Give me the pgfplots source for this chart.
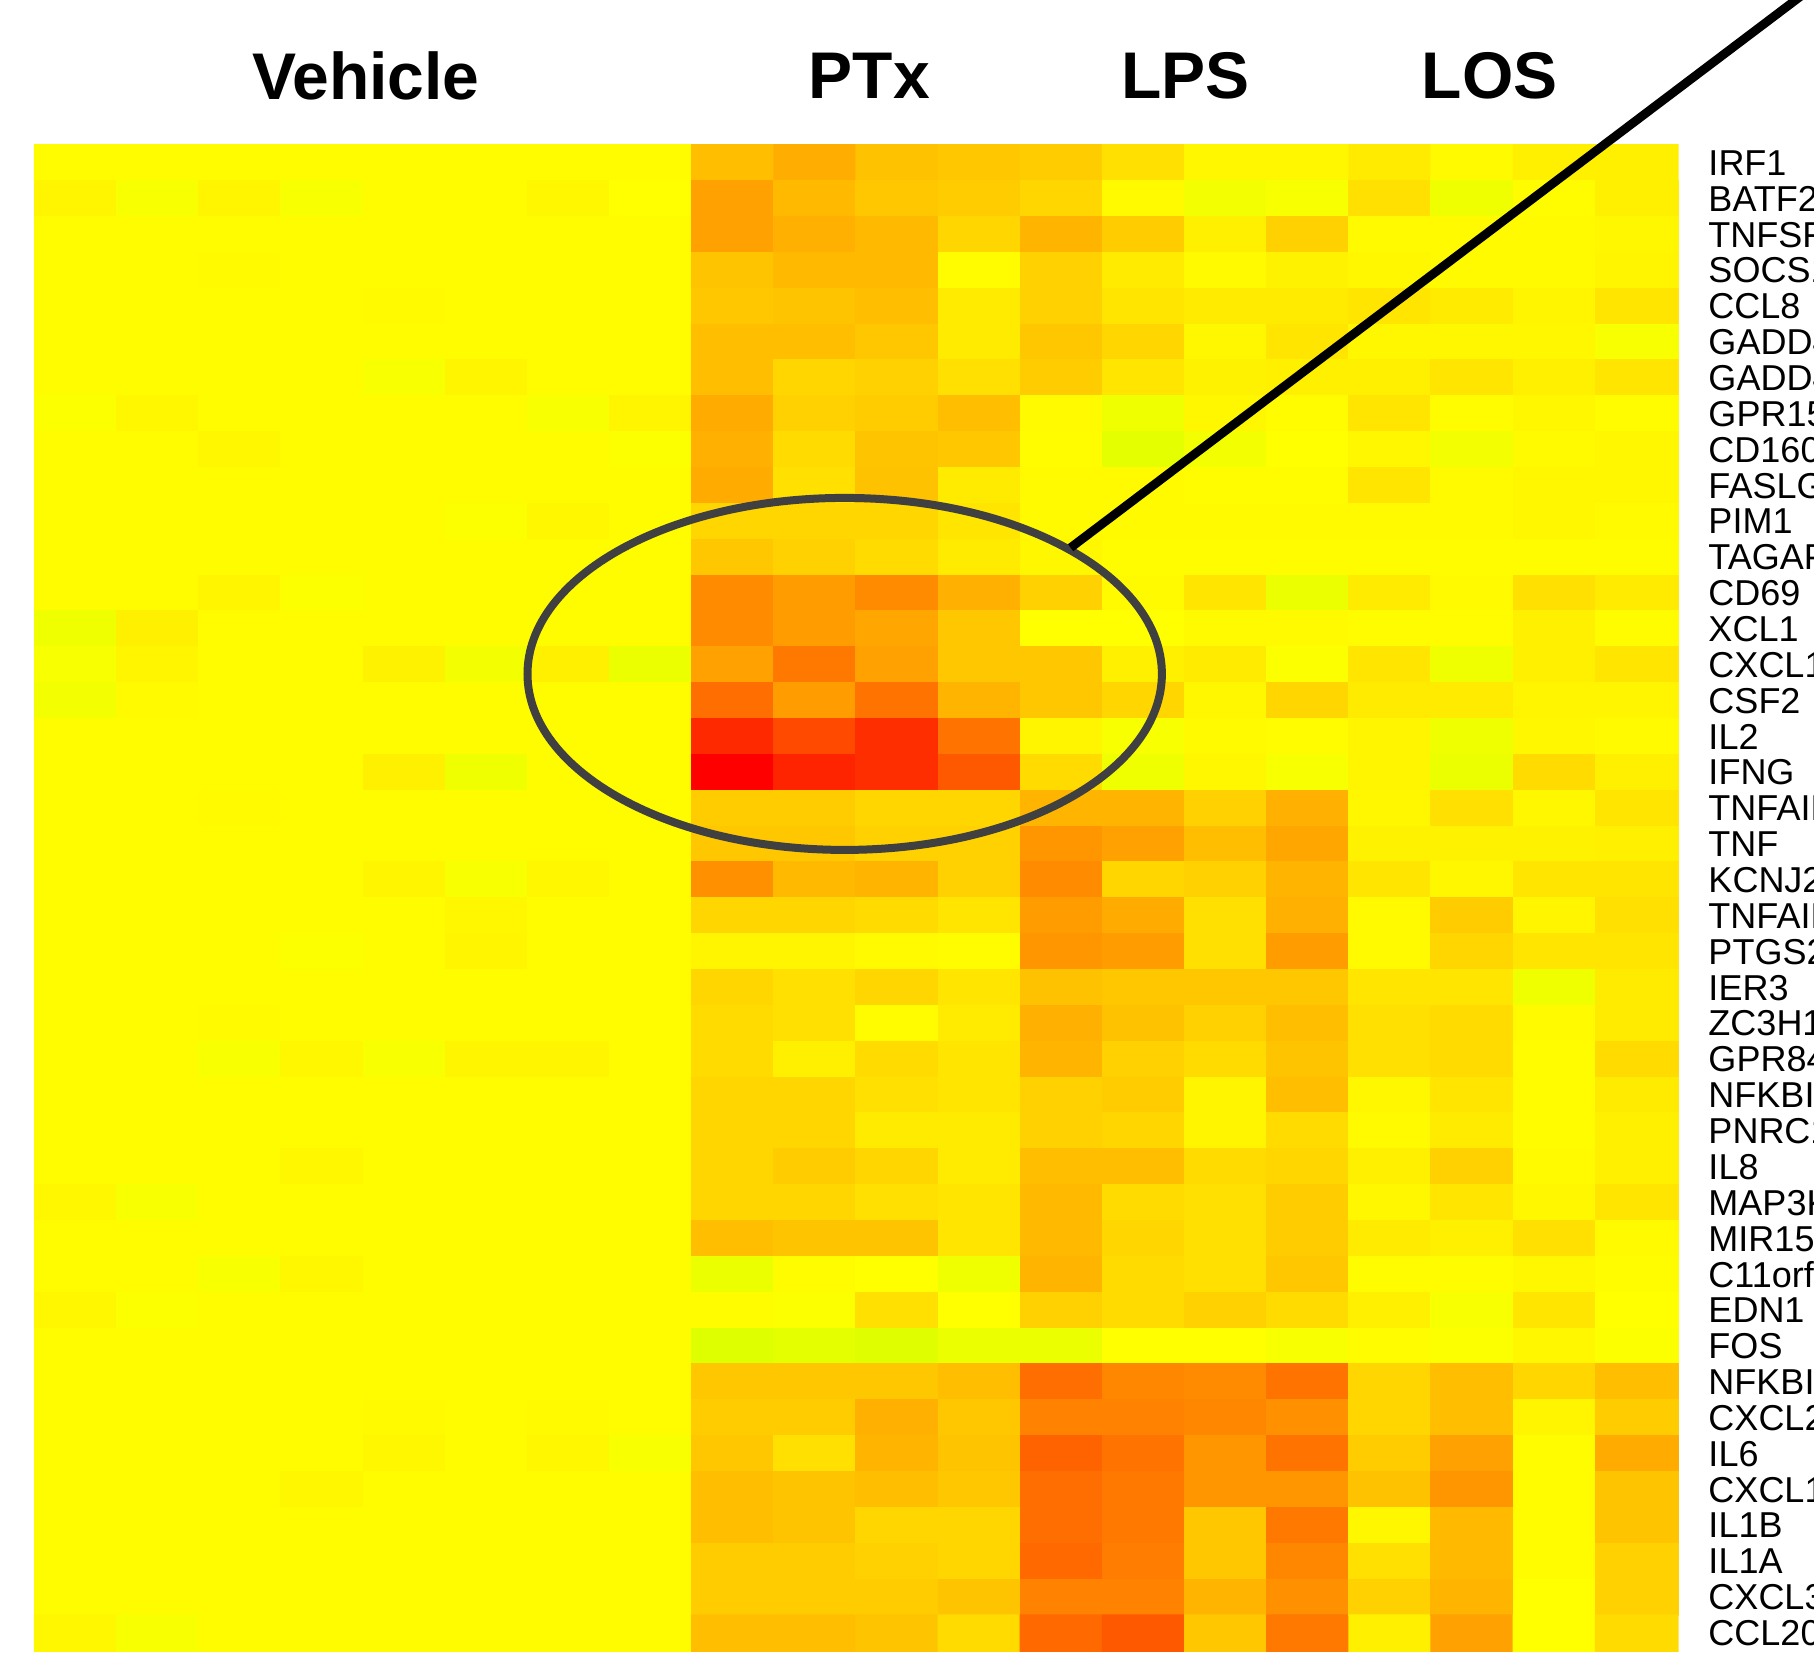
\documentclass[border=0pt]{standalone}
\usepackage{pgfplots}
\pgfplotsset{compat=1.18}
\usepackage{fontspec}
\setmainfont{Liberation Sans}
\definecolor{ellgray}{RGB}{64,64,64}
\begin{document}
\begin{tikzpicture}
\path[use as bounding box] (0,0) rectangle (453.5pt,413.5pt);
\clip (0,0) rectangle (453.5pt,413.5pt);
\begin{axis}[
 scale only axis, width=410.75pt, height=376.5pt,
 at={(8.675pt,0.75pt)}, anchor=south west,
 xmin=-0.5, xmax=19.5, ymin=-0.5, ymax=41.5, y dir=reverse,
 enlargelimits=false, clip=false,
 axis line style={draw=none}, major tick length=0pt,
 xtick=\empty, ytick={0,...,41},
 yticklabels={IRF1,BATF2,TNFSF8,SOCS1,CCL8,GADD45B,GADD45G,GPR15,CD160,FASLG,PIM1,TAGAP,CD69,XCL1,CXCL10,CSF2,IL2,IFNG,TNFAIP6,TNF,KCNJ2,TNFAIP3,PTGS2,IER3,ZC3H12A,GPR84,NFKBIZ,PNRC1,IL8,MAP3K8,MIR155HG,C11orf96,EDN1,FOS,NFKBIA,CXCL2,IL6,CXCL1,IL1B,IL1A,CXCL3,CCL20},
 yticklabel pos=right,
 yticklabel style={font=\fontsize{9}{9}\selectfont, anchor=west, inner sep=0pt, xshift=7.5pt},
 colormap={heat}{rgb255(0cm)=(215,255,0); rgb255(1cm)=(255,255,0); rgb255(11cm)=(255,0,0)},
 point meta min=-1, point meta max=10,
]
\addplot[matrix plot*, mesh/cols=20, point meta=explicit] coordinates {
(0,0) [0.1] (1,0) [0.1] (2,0) [0.1] (3,0) [0.1] (4,0) [0.1] (5,0) [0.1] (6,0) [0.1] (7,0) [0.1] (8,0) [2.5] (9,0) [3.2] (10,0) [2.4] (11,0) [2.2] (12,0) [2.0] (13,0) [1.2] (14,0) [0.3] (15,0) [0.3] (16,0) [0.8] (17,0) [0.2] (18,0) [0.6] (19,0) [0.6]
(0,1) [0.4] (1,1) [-0.2] (2,1) [0.4] (3,1) [-0.2] (4,1) [0.1] (5,1) [0.1] (6,1) [0.3] (7,1) [0.0] (8,1) [3.7] (9,1) [2.7] (10,1) [2.2] (11,1) [2.0] (12,1) [1.6] (13,1) [0.2] (14,1) [-0.3] (15,1) [-0.2] (16,1) [1.2] (17,1) [-0.4] (18,1) [0.1] (19,1) [0.6]
(0,2) [0.1] (1,2) [0.1] (2,2) [0.1] (3,2) [0.1] (4,2) [0.1] (5,2) [0.1] (6,2) [0.1] (7,2) [0.1] (8,2) [3.7] (9,2) [3.1] (10,2) [2.7] (11,2) [1.6] (12,2) [2.9] (13,2) [2.0] (14,2) [0.6] (15,2) [1.8] (16,2) [0.2] (17,2) [0.2] (18,2) [0.2] (19,2) [0.3]
(0,3) [0.1] (1,3) [0.1] (2,3) [0.2] (3,3) [0.1] (4,3) [0.1] (5,3) [0.1] (6,3) [0.1] (7,3) [0.1] (8,3) [2.3] (9,3) [2.7] (10,3) [2.7] (11,3) [0.1] (12,3) [1.8] (13,3) [0.8] (14,3) [0.2] (15,3) [0.5] (16,3) [0.3] (17,3) [0.2] (18,3) [0.2] (19,3) [0.4]
(0,4) [0.1] (1,4) [0.1] (2,4) [0.1] (3,4) [0.1] (4,4) [0.2] (5,4) [0.1] (6,4) [0.1] (7,4) [0.1] (8,4) [2.2] (9,4) [2.3] (10,4) [2.5] (11,4) [0.8] (12,4) [1.8] (13,4) [1.0] (14,4) [0.8] (15,4) [0.8] (16,4) [1.0] (17,4) [0.8] (18,4) [0.4] (19,4) [1.0]
(0,5) [0.1] (1,5) [0.1] (2,5) [0.1] (3,5) [0.1] (4,5) [0.1] (5,5) [0.1] (6,5) [0.1] (7,5) [0.1] (8,5) [2.5] (9,5) [2.5] (10,5) [2.2] (11,5) [0.8] (12,5) [2.2] (13,5) [1.6] (14,5) [0.3] (15,5) [1.0] (16,5) [0.3] (17,5) [0.3] (18,5) [0.3] (19,5) [-0.2]
(0,6) [0.1] (1,6) [0.1] (2,6) [0.1] (3,6) [0.1] (4,6) [-0.2] (5,6) [0.4] (6,6) [0.1] (7,6) [0.1] (8,6) [2.5] (9,6) [1.6] (10,6) [1.8] (11,6) [1.2] (12,6) [2.0] (13,6) [1.0] (14,6) [0.5] (15,6) [0.6] (16,6) [0.6] (17,6) [1.0] (18,6) [0.6] (19,6) [1.0]
(0,7) [-0.1] (1,7) [0.3] (2,7) [0.1] (3,7) [0.1] (4,7) [0.1] (5,7) [0.1] (6,7) [-0.2] (7,7) [0.4] (8,7) [3.3] (9,7) [1.8] (10,7) [2.0] (11,7) [2.5] (12,7) [0.2] (13,7) [-0.4] (14,7) [0.3] (15,7) [0.1] (16,7) [1.0] (17,7) [0.1] (18,7) [0.3] (19,7) [0.1]
(0,8) [0.1] (1,8) [0.1] (2,8) [0.3] (3,8) [0.1] (4,8) [0.1] (5,8) [0.1] (6,8) [0.1] (7,8) [-0.1] (8,8) [3.1] (9,8) [1.4] (10,8) [2.3] (11,8) [2.2] (12,8) [0.1] (13,8) [-0.7] (14,8) [-0.3] (15,8) [0.0] (16,8) [0.3] (17,8) [-0.3] (18,8) [0.2] (19,8) [0.3]
(0,9) [0.1] (1,9) [0.1] (2,9) [0.1] (3,9) [0.1] (4,9) [0.1] (5,9) [0.1] (6,9) [0.1] (7,9) [0.1] (8,9) [3.3] (9,9) [1.2] (10,9) [2.4] (11,9) [0.8] (12,9) [0.2] (13,9) [0.2] (14,9) [0.1] (15,9) [0.1] (16,9) [1.0] (17,9) [0.2] (18,9) [0.3] (19,9) [0.3]
(0,10) [0.1] (1,10) [0.1] (2,10) [0.1] (3,10) [0.1] (4,10) [0.1] (5,10) [-0.1] (6,10) [0.3] (7,10) [0.1] (8,10) [1.6] (9,10) [1.6] (10,10) [1.6] (11,10) [1.0] (12,10) [0.2] (13,10) [0.2] (14,10) [0.2] (15,10) [0.2] (16,10) [0.2] (17,10) [0.2] (18,10) [0.3] (19,10) [0.2]
(0,11) [0.1] (1,11) [0.1] (2,11) [0.1] (3,11) [0.1] (4,11) [0.1] (5,11) [0.1] (6,11) [0.1] (7,11) [0.1] (8,11) [2.2] (9,11) [1.8] (10,11) [1.4] (11,11) [0.8] (12,11) [0.3] (13,11) [0.1] (14,11) [0.1] (15,11) [0.1] (16,11) [0.1] (17,11) [0.1] (18,11) [0.1] (19,11) [0.1]
(0,12) [0.1] (1,12) [0.1] (2,12) [0.4] (3,12) [-0.1] (4,12) [0.1] (5,12) [0.1] (6,12) [0.1] (7,12) [0.1] (8,12) [4.5] (9,12) [3.9] (10,12) [4.5] (11,12) [3.1] (12,12) [1.8] (13,12) [0.2] (14,12) [1.0] (15,12) [-0.5] (16,12) [0.8] (17,12) [0.2] (18,12) [1.2] (19,12) [0.8]
(0,13) [-0.4] (1,13) [0.6] (2,13) [0.1] (3,13) [0.1] (4,13) [0.1] (5,13) [0.1] (6,13) [0.1] (7,13) [0.1] (8,13) [4.5] (9,13) [3.9] (10,13) [3.5] (11,13) [2.2] (12,13) [0.0] (13,13) [0.0] (14,13) [0.2] (15,13) [0.2] (16,13) [0.1] (17,13) [0.1] (18,13) [0.6] (19,13) [0.1]
(0,14) [-0.2] (1,14) [0.4] (2,14) [0.1] (3,14) [0.1] (4,14) [0.5] (5,14) [-0.3] (6,14) [0.6] (7,14) [-0.5] (8,14) [3.7] (9,14) [5.3] (10,14) [3.7] (11,14) [2.2] (12,14) [2.2] (13,14) [0.6] (14,14) [0.8] (15,14) [-0.1] (16,14) [1.0] (17,14) [-0.4] (18,14) [0.6] (19,14) [1.0]
(0,15) [-0.3] (1,15) [0.2] (2,15) [0.1] (3,15) [0.1] (4,15) [0.1] (5,15) [0.1] (6,15) [0.1] (7,15) [0.1] (8,15) [5.7] (9,15) [3.9] (10,15) [5.5] (11,15) [2.9] (12,15) [2.2] (13,15) [1.6] (14,15) [0.3] (15,15) [1.6] (16,15) [0.8] (17,15) [0.8] (18,15) [0.4] (19,15) [0.4]
(0,16) [0.1] (1,16) [0.1] (2,16) [0.1] (3,16) [0.1] (4,16) [0.1] (5,16) [0.1] (6,16) [0.1] (7,16) [0.1] (8,16) [8.4] (9,16) [7.1] (10,16) [8.2] (11,16) [5.5] (12,16) [0.4] (13,16) [-0.2] (14,16) [0.2] (15,16) [0.1] (16,16) [0.4] (17,16) [-0.4] (18,16) [0.3] (19,16) [0.2]
(0,17) [0.1] (1,17) [0.1] (2,17) [0.1] (3,17) [0.1] (4,17) [0.6] (5,17) [-0.4] (6,17) [0.1] (7,17) [0.1] (8,17) [10] (9,17) [8.6] (10,17) [8.2] (11,17) [6.5] (12,17) [1.4] (13,17) [-0.4] (14,17) [0.3] (15,17) [-0.2] (16,17) [0.4] (17,17) [-0.5] (18,17) [1.4] (19,17) [0.6]
(0,18) [0.1] (1,18) [0.1] (2,18) [0.2] (3,18) [0.1] (4,18) [0.1] (5,18) [0.1] (6,18) [0.1] (7,18) [0.1] (8,18) [2.0] (9,18) [2.0] (10,18) [1.6] (11,18) [1.6] (12,18) [2.9] (13,18) [2.9] (14,18) [1.8] (15,18) [3.1] (16,18) [0.3] (17,18) [1.2] (18,18) [0.3] (19,18) [1.0]
(0,19) [0.1] (1,19) [0.1] (2,19) [0.1] (3,19) [0.1] (4,19) [0.1] (5,19) [0.1] (6,19) [0.1] (7,19) [0.1] (8,19) [2.2] (9,19) [2.2] (10,19) [1.8] (11,19) [1.8] (12,19) [4.1] (13,19) [3.7] (14,19) [2.5] (15,19) [3.5] (16,19) [0.5] (17,19) [0.5] (18,19) [0.5] (19,19) [0.6]
(0,20) [0.1] (1,20) [0.1] (2,20) [0.1] (3,20) [0.1] (4,20) [0.4] (5,20) [-0.2] (6,20) [0.3] (7,20) [0.1] (8,20) [4.3] (9,20) [2.7] (10,20) [2.9] (11,20) [1.8] (12,20) [4.5] (13,20) [1.6] (14,20) [1.8] (15,20) [2.9] (16,20) [1.0] (17,20) [0.3] (18,20) [1.0] (19,20) [1.0]
(0,21) [0.1] (1,21) [0.1] (2,21) [0.1] (3,21) [0.1] (4,21) [0.1] (5,21) [0.3] (6,21) [0.1] (7,21) [0.1] (8,21) [1.6] (9,21) [1.6] (10,21) [1.4] (11,21) [1.0] (12,21) [3.9] (13,21) [3.3] (14,21) [1.2] (15,21) [3.1] (16,21) [0.2] (17,21) [2.0] (18,21) [0.4] (19,21) [1.2]
(0,22) [0.1] (1,22) [0.1] (2,22) [0.1] (3,22) [-0.1] (4,22) [0.1] (5,22) [0.4] (6,22) [0.1] (7,22) [0.1] (8,22) [0.4] (9,22) [0.4] (10,22) [0.2] (11,22) [0.1] (12,22) [4.1] (13,22) [3.9] (14,22) [1.2] (15,22) [3.9] (16,22) [0.2] (17,22) [1.6] (18,22) [1.0] (19,22) [1.0]
(0,23) [0.1] (1,23) [0.1] (2,23) [0.1] (3,23) [0.1] (4,23) [0.1] (5,23) [0.1] (6,23) [0.1] (7,23) [0.1] (8,23) [1.6] (9,23) [1.2] (10,23) [1.6] (11,23) [1.0] (12,23) [2.4] (13,23) [2.2] (14,23) [2.2] (15,23) [2.2] (16,23) [1.0] (17,23) [1.0] (18,23) [-0.4] (19,23) [0.8]
(0,24) [0.1] (1,24) [0.1] (2,24) [0.2] (3,24) [0.1] (4,24) [0.1] (5,24) [0.1] (6,24) [0.1] (7,24) [0.1] (8,24) [1.4] (9,24) [1.2] (10,24) [0.1] (11,24) [0.8] (12,24) [3.1] (13,24) [2.4] (14,24) [1.8] (15,24) [2.5] (16,24) [1.2] (17,24) [1.4] (18,24) [0.2] (19,24) [0.8]
(0,25) [0.1] (1,25) [0.1] (2,25) [-0.2] (3,25) [0.3] (4,25) [-0.2] (5,25) [0.4] (6,25) [0.4] (7,25) [0.1] (8,25) [1.4] (9,25) [0.6] (10,25) [1.4] (11,25) [1.0] (12,25) [2.9] (13,25) [1.8] (14,25) [1.4] (15,25) [2.3] (16,25) [1.2] (17,25) [1.4] (18,25) [0.1] (19,25) [1.4]
(0,26) [0.1] (1,26) [0.1] (2,26) [0.1] (3,26) [0.1] (4,26) [0.1] (5,26) [0.1] (6,26) [0.1] (7,26) [0.1] (8,26) [1.6] (9,26) [1.6] (10,26) [1.2] (11,26) [1.0] (12,26) [1.8] (13,26) [2.0] (14,26) [0.4] (15,26) [2.5] (16,26) [0.3] (17,26) [1.0] (18,26) [0.1] (19,26) [0.8]
(0,27) [0.1] (1,27) [0.1] (2,27) [0.1] (3,27) [0.1] (4,27) [0.1] (5,27) [0.1] (6,27) [0.1] (7,27) [0.1] (8,27) [1.6] (9,27) [1.6] (10,27) [0.8] (11,27) [0.8] (12,27) [1.8] (13,27) [1.6] (14,27) [0.4] (15,27) [1.4] (16,27) [0.2] (17,27) [0.8] (18,27) [0.1] (19,27) [0.6]
(0,28) [0.1] (1,28) [0.1] (2,28) [0.1] (3,28) [0.3] (4,28) [0.1] (5,28) [0.1] (6,28) [0.1] (7,28) [0.1] (8,28) [1.6] (9,28) [2.0] (10,28) [1.6] (11,28) [0.8] (12,28) [2.5] (13,28) [2.5] (14,28) [1.4] (15,28) [1.6] (16,28) [0.6] (17,28) [1.8] (18,28) [0.2] (19,28) [0.6]
(0,29) [0.3] (1,29) [-0.2] (2,29) [0.1] (3,29) [0.1] (4,29) [0.1] (5,29) [0.1] (6,29) [0.1] (7,29) [0.1] (8,29) [1.6] (9,29) [1.6] (10,29) [1.2] (11,29) [1.0] (12,29) [2.7] (13,29) [1.4] (14,29) [1.2] (15,29) [2.0] (16,29) [0.3] (17,29) [1.0] (18,29) [0.3] (19,29) [1.0]
(0,30) [0.1] (1,30) [0.1] (2,30) [0.1] (3,30) [0.1] (4,30) [0.1] (5,30) [0.1] (6,30) [0.1] (7,30) [0.1] (8,30) [2.5] (9,30) [2.3] (10,30) [2.3] (11,30) [1.0] (12,30) [2.7] (13,30) [1.6] (14,30) [1.2] (15,30) [2.0] (16,30) [0.8] (17,30) [0.6] (18,30) [1.2] (19,30) [0.2]
(0,31) [0.1] (1,31) [0.1] (2,31) [-0.2] (3,31) [0.3] (4,31) [0.1] (5,31) [0.1] (6,31) [0.1] (7,31) [0.1] (8,31) [-0.5] (9,31) [0.1] (10,31) [0.0] (11,31) [-0.4] (12,31) [2.9] (13,31) [1.4] (14,31) [1.2] (15,31) [2.2] (16,31) [0.1] (17,31) [0.1] (18,31) [0.3] (19,31) [0.1]
(0,32) [0.3] (1,32) [-0.1] (2,32) [0.1] (3,32) [0.1] (4,32) [0.1] (5,32) [0.1] (6,32) [0.1] (7,32) [0.1] (8,32) [0.1] (9,32) [-0.1] (10,32) [1.2] (11,32) [0.0] (12,32) [1.8] (13,32) [1.4] (14,32) [1.8] (15,32) [1.4] (16,32) [0.6] (17,32) [-0.2] (18,32) [1.0] (19,32) [0.0]
(0,33) [0.1] (1,33) [0.1] (2,33) [0.1] (3,33) [0.1] (4,33) [0.1] (5,33) [0.1] (6,33) [0.1] (7,33) [0.1] (8,33) [-0.85] (9,33) [-0.7] (10,33) [-0.8] (11,33) [-0.5] (12,33) [-0.5] (13,33) [0.0] (14,33) [0.0] (15,33) [-0.2] (16,33) [0.1] (17,33) [-0.1] (18,33) [0.3] (19,33) [-0.1]
(0,34) [0.1] (1,34) [0.1] (2,34) [0.1] (3,34) [0.1] (4,34) [0.1] (5,34) [0.1] (6,34) [0.1] (7,34) [0.1] (8,34) [2.2] (9,34) [2.2] (10,34) [2.2] (11,34) [2.5] (12,34) [5.7] (13,34) [4.7] (14,34) [4.5] (15,34) [5.5] (16,34) [1.6] (17,34) [2.5] (18,34) [1.6] (19,34) [2.5]
(0,35) [0.1] (1,35) [0.1] (2,35) [0.1] (3,35) [0.1] (4,35) [0.2] (5,35) [0.1] (6,35) [0.2] (7,35) [0.1] (8,35) [2.0] (9,35) [2.0] (10,35) [3.1] (11,35) [2.2] (12,35) [4.9] (13,35) [4.9] (14,35) [4.7] (15,35) [4.3] (16,35) [1.6] (17,35) [2.5] (18,35) [0.4] (19,35) [2.0]
(0,36) [0.1] (1,36) [0.1] (2,36) [0.1] (3,36) [0.1] (4,36) [0.3] (5,36) [0.1] (6,36) [0.3] (7,36) [-0.2] (8,36) [2.2] (9,36) [1.2] (10,36) [2.9] (11,36) [2.3] (12,36) [6.1] (13,36) [5.5] (14,36) [4.1] (15,36) [5.5] (16,36) [2.0] (17,36) [3.7] (18,36) [0.1] (19,36) [3.3]
(0,37) [0.1] (1,37) [0.1] (2,37) [0.1] (3,37) [0.3] (4,37) [0.1] (5,37) [0.1] (6,37) [0.1] (7,37) [0.1] (8,37) [2.5] (9,37) [2.3] (10,37) [2.5] (11,37) [2.2] (12,37) [5.7] (13,37) [5.3] (14,37) [4.1] (15,37) [4.1] (16,37) [2.4] (17,37) [4.1] (18,37) [0.1] (19,37) [2.3]
(0,38) [0.1] (1,38) [0.1] (2,38) [0.1] (3,38) [0.1] (4,38) [0.1] (5,38) [0.1] (6,38) [0.1] (7,38) [0.1] (8,38) [2.5] (9,38) [2.3] (10,38) [1.6] (11,38) [1.6] (12,38) [5.7] (13,38) [5.3] (14,38) [2.2] (15,38) [5.3] (16,38) [0.3] (17,38) [2.7] (18,38) [0.1] (19,38) [2.3]
(0,39) [0.1] (1,39) [0.1] (2,39) [0.1] (3,39) [0.1] (4,39) [0.1] (5,39) [0.1] (6,39) [0.1] (7,39) [0.1] (8,39) [2.0] (9,39) [2.0] (10,39) [1.8] (11,39) [1.6] (12,39) [5.9] (13,39) [5.1] (14,39) [2.2] (15,39) [4.7] (16,39) [1.2] (17,39) [2.7] (18,39) [0.1] (19,39) [1.8]
(0,40) [0.1] (1,40) [0.1] (2,40) [0.1] (3,40) [0.1] (4,40) [0.1] (5,40) [0.1] (6,40) [0.1] (7,40) [0.1] (8,40) [2.0] (9,40) [2.0] (10,40) [2.0] (11,40) [2.3] (12,40) [4.9] (13,40) [4.9] (14,40) [2.9] (15,40) [4.3] (16,40) [1.8] (17,40) [2.9] (18,40) [0.0] (19,40) [1.8]
(0,41) [0.3] (1,41) [-0.2] (2,41) [0.1] (3,41) [0.1] (4,41) [0.1] (5,41) [0.1] (6,41) [0.1] (7,41) [0.1] (8,41) [2.5] (9,41) [2.5] (10,41) [2.3] (11,41) [1.4] (12,41) [5.9] (13,41) [6.5] (14,41) [2.2] (15,41) [5.3] (16,41) [0.6] (17,41) [3.7] (18,41) [0.0] (19,41) [1.4]
};
\node[font=\bfseries\fontsize{16.5}{16.5}\selectfont] at (axis cs:3.53,-2.44) {Vehicle};
\node[font=\bfseries\fontsize{16.5}{16.5}\selectfont] at (axis cs:9.66,-2.44) {PTx};
\node[font=\bfseries\fontsize{16.5}{16.5}\selectfont] at (axis cs:13.51,-2.44) {LPS};
\node[font=\bfseries\fontsize{16.5}{16.5}\selectfont] at (axis cs:17.21,-2.44) {LOS};
\draw[line width=2pt, ellgray] (axis cs:9.36,14.25) ellipse [x radius=79.3pt, y radius=44pt];
\draw[line width=2.2pt, black] (axis cs:12.11,10.73) -- (axis cs:21.35,-5.26);
\end{axis}
\end{tikzpicture}
\end{document}
